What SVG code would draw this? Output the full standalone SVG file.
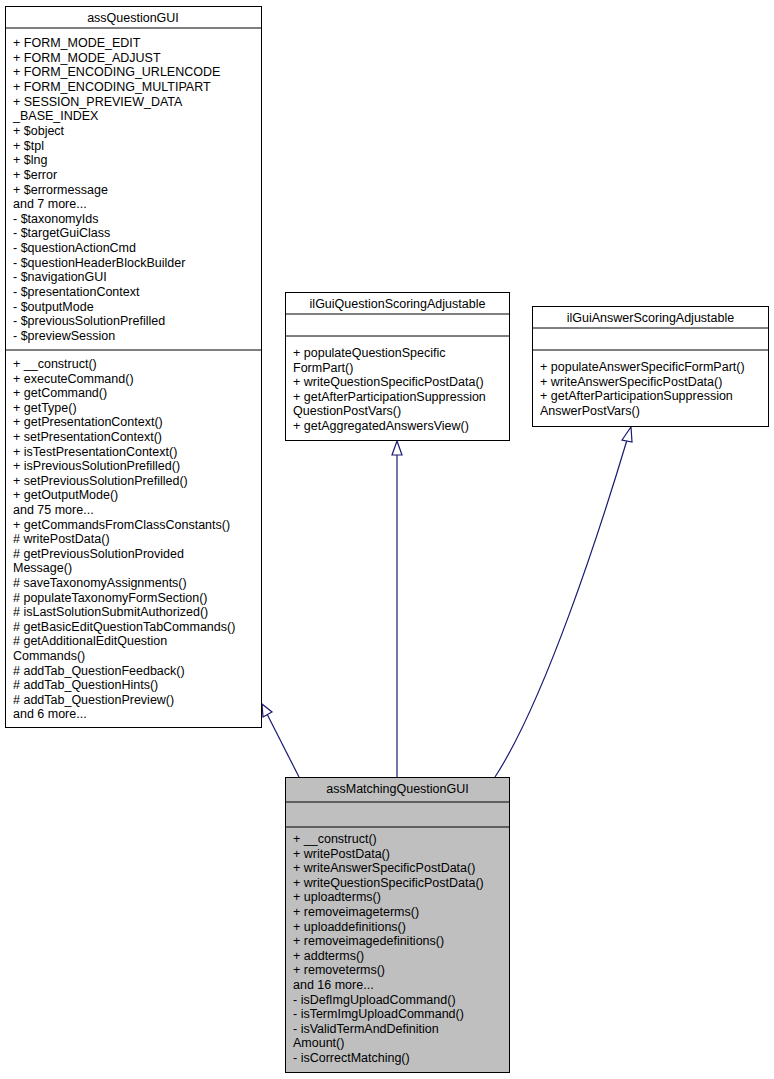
<svg xmlns="http://www.w3.org/2000/svg" width="774" height="1079" viewBox="0 0 774 1079">
<style>
text{font-family:"Liberation Sans",Arial,sans-serif;font-size:12.5px;fill:#000}
.b{fill:#fff;stroke:#000;stroke-width:1}
.g{fill:#bfbfbf;stroke:#000;stroke-width:1}
.e{stroke:#191970;stroke-width:1.2;fill:none}
.t{fill:#fff;stroke:#191970;stroke-width:1.2}
.c{text-anchor:middle}
</style>
<rect width="774" height="1079" fill="#fff"/>
<g id="edges">
<path class="e" d="M299,777 L267,714"/><polygon class="t" points="262,704 272,712 263,717"/>
<path class="e" d="M397,777 L397,455"/><polygon class="t" points="397,441 402,455 392,455"/>
<path class="e" d="M495,777 C545,700 600,530 627,440"/><polygon class="t" points="631,427 632,442 622,440"/>
</g>
<g id="assQuestionGUI">
<rect class="b" x="5.5" y="6.5" width="256" height="721"/>
<line x1="5.5" y1="28" x2="261.5" y2="28" stroke="#000"/>
<line x1="5.5" y1="350" x2="261.5" y2="350" stroke="#000"/>
<text class="c" x="133" y="22">assQuestionGUI</text>
<text x="13" y="47">+ FORM_MODE_EDIT</text>
<text x="13" y="61.6">+ FORM_MODE_ADJUST</text>
<text x="13" y="76.3">+ FORM_ENCODING_URLENCODE</text>
<text x="13" y="90.9">+ FORM_ENCODING_MULTIPART</text>
<text x="13" y="105.6">+ SESSION_PREVIEW_DATA</text>
<text x="13" y="120.2">_BASE_INDEX</text>
<text x="13" y="134.9">+ $object</text>
<text x="13" y="149.5">+ $tpl</text>
<text x="13" y="164.2">+ $lng</text>
<text x="13" y="178.8">+ $error</text>
<text x="13" y="193.5">+ $errormessage</text>
<text x="13" y="208.1">and 7 more...</text>
<text x="13" y="222.8">- $taxonomyIds</text>
<text x="13" y="237.4">- $targetGuiClass</text>
<text x="13" y="252.1">- $questionActionCmd</text>
<text x="13" y="266.7">- $questionHeaderBlockBuilder</text>
<text x="13" y="281.4">- $navigationGUI</text>
<text x="13" y="296">- $presentationContext</text>
<text x="13" y="310.7">- $outputMode</text>
<text x="13" y="325.3">- $previousSolutionPrefilled</text>
<text x="13" y="340">- $previewSession</text>
<text x="13" y="368">+ __construct()</text>
<text x="13" y="382.6">+ executeCommand()</text>
<text x="13" y="397.2">+ getCommand()</text>
<text x="13" y="411.8">+ getType()</text>
<text x="13" y="426.4">+ getPresentationContext()</text>
<text x="13" y="441">+ setPresentationContext()</text>
<text x="13" y="455.6">+ isTestPresentationContext()</text>
<text x="13" y="470.2">+ isPreviousSolutionPrefilled()</text>
<text x="13" y="484.8">+ setPreviousSolutionPrefilled()</text>
<text x="13" y="499.4">+ getOutputMode()</text>
<text x="13" y="514">and 75 more...</text>
<text x="13" y="528.6">+ getCommandsFromClassConstants()</text>
<text x="13" y="543.2"># writePostData()</text>
<text x="13" y="557.8"># getPreviousSolutionProvided</text>
<text x="13" y="572.4">Message()</text>
<text x="13" y="587"># saveTaxonomyAssignments()</text>
<text x="13" y="601.6"># populateTaxonomyFormSection()</text>
<text x="13" y="616.2"># isLastSolutionSubmitAuthorized()</text>
<text x="13" y="630.8"># getBasicEditQuestionTabCommands()</text>
<text x="13" y="645.4"># getAdditionalEditQuestion</text>
<text x="13" y="660">Commands()</text>
<text x="13" y="674.6"># addTab_QuestionFeedback()</text>
<text x="13" y="689.2"># addTab_QuestionHints()</text>
<text x="13" y="703.8"># addTab_QuestionPreview()</text>
<text x="13" y="718.4">and 6 more...</text>
</g>
<g id="ilGuiQuestionScoringAdjustable">
<rect class="b" x="285.5" y="292.5" width="224" height="148"/>
<line x1="285.5" y1="314" x2="509.5" y2="314" stroke="#000"/>
<line x1="285.5" y1="336" x2="509.5" y2="336" stroke="#000"/>
<text class="c" x="397.5" y="308">ilGuiQuestionScoringAdjustable</text>
<text x="293" y="357">+ populateQuestionSpecific</text>
<text x="293" y="371.6">FormPart()</text>
<text x="293" y="386.2">+ writeQuestionSpecificPostData()</text>
<text x="293" y="400.8">+ getAfterParticipationSuppression</text>
<text x="293" y="415.4">QuestionPostVars()</text>
<text x="293" y="430">+ getAggregatedAnswersView()</text>
</g>
<g id="ilGuiAnswerScoringAdjustable">
<rect class="b" x="532.5" y="306.5" width="236" height="120"/>
<line x1="532.5" y1="328" x2="768.5" y2="328" stroke="#000"/>
<line x1="532.5" y1="350" x2="768.5" y2="350" stroke="#000"/>
<text class="c" x="650.5" y="322">ilGuiAnswerScoringAdjustable</text>
<text x="540" y="371">+ populateAnswerSpecificFormPart()</text>
<text x="540" y="385.6">+ writeAnswerSpecificPostData()</text>
<text x="540" y="400.2">+ getAfterParticipationSuppression</text>
<text x="540" y="414.8">AnswerPostVars()</text>
</g>
<g id="assMatchingQuestionGUI">
<rect class="g" x="285.5" y="777.5" width="224" height="295"/>
<line x1="285.5" y1="802" x2="509.5" y2="802" stroke="#000"/>
<line x1="285.5" y1="827" x2="509.5" y2="827" stroke="#000"/>
<text class="c" x="397.5" y="793">assMatchingQuestionGUI</text>
<text x="293" y="843">+ __construct()</text>
<text x="293" y="857.6">+ writePostData()</text>
<text x="293" y="872.2">+ writeAnswerSpecificPostData()</text>
<text x="293" y="886.8">+ writeQuestionSpecificPostData()</text>
<text x="293" y="901.4">+ uploadterms()</text>
<text x="293" y="916">+ removeimageterms()</text>
<text x="293" y="930.6">+ uploaddefinitions()</text>
<text x="293" y="945.2">+ removeimagedefinitions()</text>
<text x="293" y="959.8">+ addterms()</text>
<text x="293" y="974.4">+ removeterms()</text>
<text x="293" y="989">and 16 more...</text>
<text x="293" y="1003.6">- isDefImgUploadCommand()</text>
<text x="293" y="1018.2">- isTermImgUploadCommand()</text>
<text x="293" y="1032.8">- isValidTermAndDefinition</text>
<text x="293" y="1047.4">Amount()</text>
<text x="293" y="1062">- isCorrectMatching()</text>
</g>
</svg>
